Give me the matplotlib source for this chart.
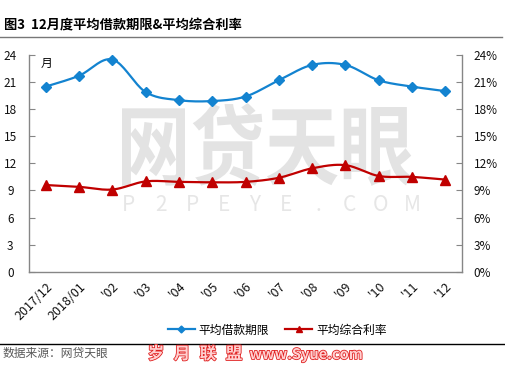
import numpy as np
import matplotlib
matplotlib.use("Agg")
import matplotlib.pyplot as plt
import matplotlib.patheffects as pe
from matplotlib.lines import Line2D
from matplotlib.textpath import TextPath
from matplotlib.font_manager import FontProperties
from matplotlib.patches import PathPatch
from matplotlib.transforms import Affine2D

plt.rcParams['font.family'] = ['Noto Sans CJK SC', 'DejaVu Sans']

months = ['2017/12', '2018/01', "'02", "'03", "'04", "'05", "'06",
          "'07", "'08", "'09", "'10", "'11", "'12"]
term = [20.5, 21.7, 23.5, 19.9, 19.0, 18.9, 19.4, 21.2, 22.9, 22.9, 21.2, 20.5, 20.0]
rate = [9.6, 9.4, 9.1, 10.0, 9.95, 9.9, 9.95, 10.4, 11.45, 11.8, 10.6, 10.5, 10.2]
left_ticks = [0, 3, 6, 9, 12, 15, 18, 21, 24]
right_ticks = [0, 3, 6, 9, 12, 15, 18, 21, 24]

BLUE = '#1383d0'
RED = '#c00000'
GRAY = '#868686'
W, H = 505, 365


def smooth(xs, ys, n=20):
    xs = np.asarray(xs, float)
    ys = np.asarray(ys, float)
    P = np.column_stack([xs, ys])
    P = np.vstack([P[0], P, P[-1]])
    out = []
    for i in range(1, len(P) - 2):
        p0, p1, p2, p3 = P[i - 1], P[i], P[i + 1], P[i + 2]
        t = np.linspace(0, 1, n, endpoint=False)[:, None]
        c = 0.5 * ((2 * p1) + (-p0 + p2) * t + (2 * p0 - 5 * p1 + 4 * p2 - p3) * t ** 2
                   + (-p0 + 3 * p1 - 3 * p2 + p3) * t ** 3)
        out.append(c)
    out.append(P[-2][None, :])
    out = np.vstack(out)
    return out[:, 0], out[:, 1]


fig = plt.figure(figsize=(W / 100, H / 100), dpi=100)
ax = fig.add_axes([29 / W, 1 - 271.7 / H, (462 - 29) / W, (271.7 - 55) / H])
ax2 = ax.twinx()

# watermark: big characters stretched into their box (pixel coords)
tp = TextPath((0, 0), '网贷天眼', size=100,
              prop=FontProperties(family='Noto Sans CJK SC', weight='bold'))
bb = tp.get_extents()
box_x0, box_x1, box_top, box_bot = 122, 412, 103, 186
tr = (Affine2D().translate(-bb.x0, -bb.y0)
      .scale((box_x1 - box_x0) / bb.width, (box_bot - box_top) / bb.height)
      .translate(box_x0, H - box_bot))
fig.add_artist(PathPatch(tp, transform=tr, facecolor='#e3e3e3', edgecolor='none', zorder=0))
wm_letters = list('P2PEYE.COM')
for i, ch in enumerate(wm_letters):
    fig.text((129 + 31.5 * i) / W, 1 - 205 / H, ch, fontsize=15, color='#e6e6e6',
             ha='center', va='center', zorder=0, fontweight='light')

ax.set_zorder(2)
ax2.set_zorder(3)
ax.patch.set_visible(False)
ax2.patch.set_visible(False)

x = np.arange(len(months))
sx, sy = smooth(x, term)
ax.plot(sx, sy, color=BLUE, lw=1.6, zorder=3)
ax.plot(x, term, ls='none', marker='D', ms=5.5, color=BLUE, zorder=4)
rx, ry = smooth(x, rate)
ax2.plot(rx, ry, color=RED, lw=1.6, zorder=3)
ax2.plot(x, rate, ls='none', marker='^', ms=7, color=RED, zorder=4)

ax.set_xlim(-0.5, len(months) - 0.5)
ax.set_ylim(0, 24)
ax2.set_ylim(0, 24)
ax.set_yticks(left_ticks)
ax.set_yticklabels([str(v) for v in left_ticks], ha='center')
ax2.set_yticks(right_ticks)
ax2.set_yticklabels([f'{v}%' for v in right_ticks])
ax.set_xticks(x)
ax.set_xticklabels(months, rotation=45, ha='right', va='top', rotation_mode='anchor')

for a in (ax, ax2):
    for s in a.spines.values():
        s.set_color(GRAY)
        s.set_linewidth(1.0)
    a.spines['top'].set_visible(False)
ax.spines['right'].set_visible(False)
ax2.spines['left'].set_visible(False)
ax2.spines['bottom'].set_visible(False)

ax.tick_params(axis='y', direction='in', length=4, color=GRAY, labelsize=8.5, pad=13.5,
               labelcolor='#111111')
ax.tick_params(axis='x', length=0, labelsize=9, pad=6, labelcolor='#111111')
ax2.tick_params(axis='y', direction='in', length=4, color=GRAY, labelsize=8.5, pad=8.5,
                labelcolor='#111111')

ax.text(0.027, 0.99, '月', transform=ax.transAxes, fontsize=8.5, ha='left', va='top')

# title
fig.text(4 / W, 1 - 25.5 / H, '图3  12月度平均借款期限&平均综合利率', fontsize=9.5,
         fontweight='bold', ha='left', va='center')
fig.add_artist(Line2D([0, 502 / W], [1 - 37 / H, 1 - 37 / H], color='#777777', lw=1.0))

# legend
handles = [Line2D([], [], color=BLUE, lw=1.6, marker='D', ms=3.5),
           Line2D([], [], color=RED, lw=1.6, marker='^', ms=4.5)]
fig.legend(handles, ['平均借款期限', '平均综合利率'], loc='center',
           bbox_to_anchor=(277 / W, 1 - 330 / H), ncol=2, frameon=False,
           fontsize=8.5, handlelength=2.3, handletextpad=0.3, columnspacing=1.4)

# footer
fig.add_artist(Line2D([0, 1], [1 - 344 / H, 1 - 344 / H], color='black', lw=1.0))
fig.text(3 / W, 1 - 353 / H, '数据来源：网贷天眼', fontsize=8.5, color='#595959',
         ha='left', va='center')
wm_fx = [pe.withStroke(linewidth=1.2, foreground='#e02020')]
for i, ch in enumerate('岁月联盟'):
    fig.text((156 + 26 * i) / W, 1 - 354 / H, ch, fontsize=12, color='#ffd0d0',
             fontweight='bold', ha='center', va='center', path_effects=wm_fx)
fig.text(306 / W, 1 - 354 / H, 'www.Syue.com', fontsize=10.5, color='#ffd0d0',
         fontweight='bold', ha='center', va='center', path_effects=wm_fx)

fig.savefig('out.png', dpi=100)
